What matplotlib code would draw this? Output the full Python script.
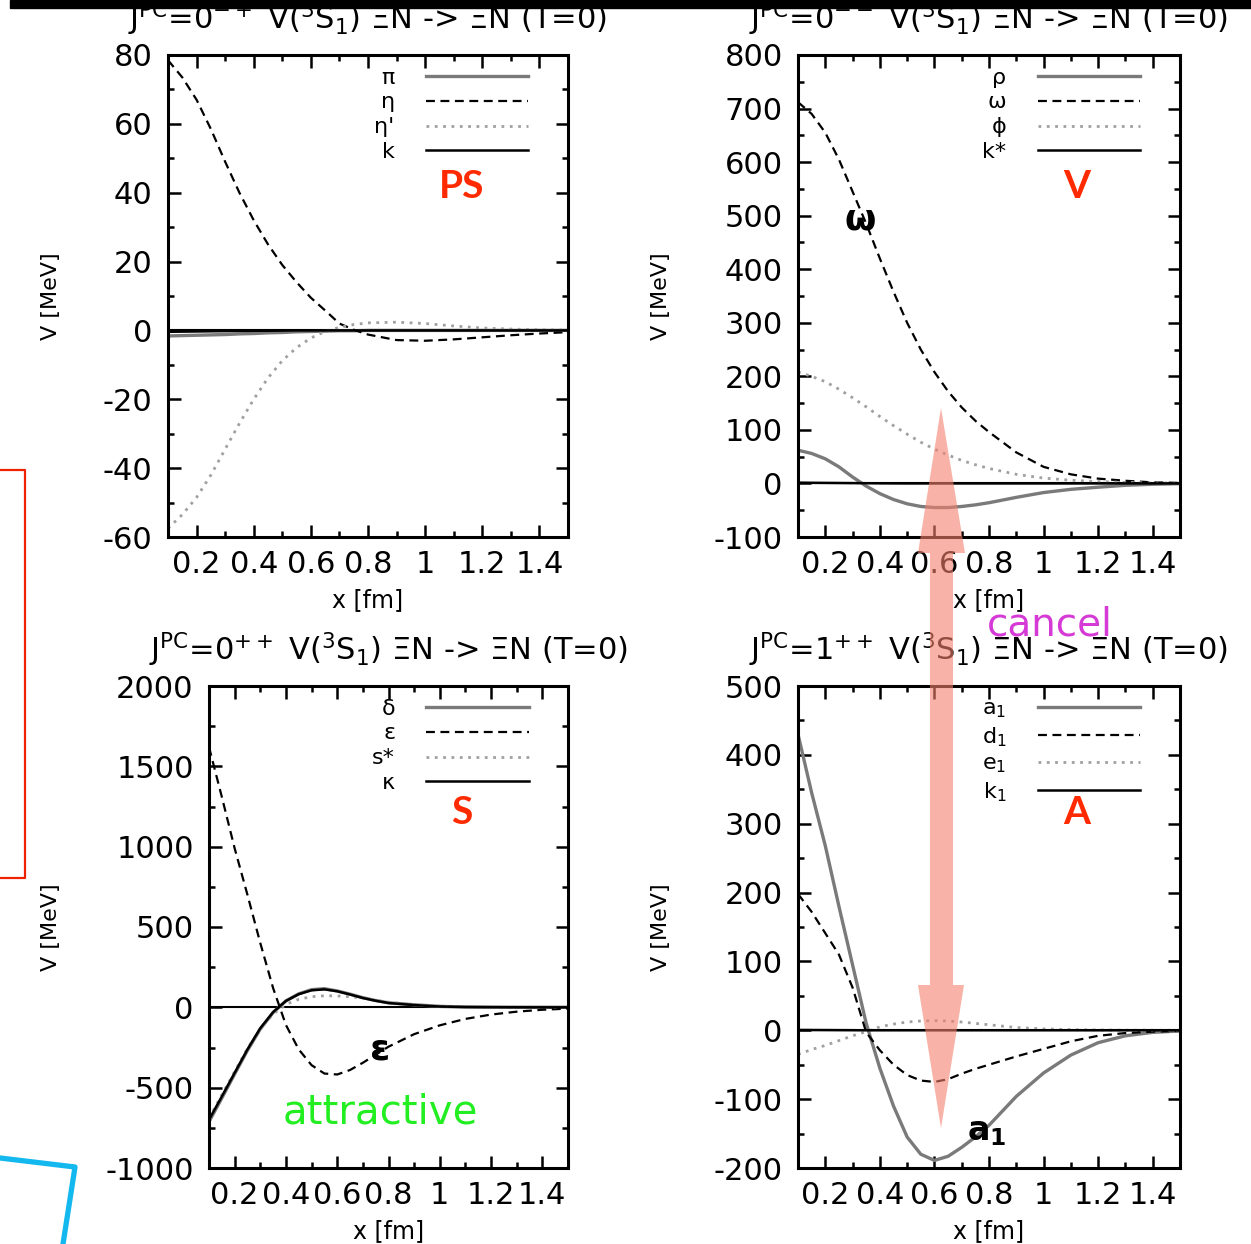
import matplotlib
matplotlib.use('Agg')
import matplotlib.pyplot as plt
from matplotlib.ticker import MultipleLocator, FuncFormatter
from matplotlib.patches import Polygon, Rectangle
from matplotlib.lines import Line2D

W, H = 1251, 1244

# ---------------- data ----------------
x = [0.1, 0.15, 0.2, 0.25, 0.3, 0.35, 0.4, 0.45, 0.5, 0.55, 0.6, 0.65,
     0.7, 0.75, 0.8, 0.9, 1.0, 1.1, 1.2, 1.3, 1.4, 1.5]

# pseudoscalar panel
ps_labels = ['π', 'η', "η'", 'k']
ps_pi = [-1.6, -1.5, -1.4, -1.3, -1.2, -1.0, -0.9, -0.7, -0.6, -0.4, -0.3, -0.2,
         -0.1, -0.1, 0.0, 0.0, 0.0, 0.0, 0.0, 0.0, 0.0, 0.0]
ps_eta = [78.5, 73.5, 67, 58.5, 49, 40, 32, 25, 19, 14, 9.5, 5.8,
          2.0, 0.2, -1.2, -2.8, -3.0, -2.6, -2.0, -1.4, -0.9, -0.5]
ps_etap = [-57.5, -53.5, -48.5, -42, -34.5, -27, -20, -13.8, -8.8, -5, -2.2, -0.3,
           0.9, 1.7, 2.2, 2.4, 2.0, 1.3, 0.7, 0.4, 0.2, 0.1]
ps_k = [-0.4, -0.35, -0.3, -0.25, -0.2, -0.15, -0.1, -0.1, -0.05, 0, 0, 0,
        0, 0, 0, 0, 0, 0, 0, 0, 0, 0]

# vector panel
v_labels = ['ρ', 'ω', 'ϕ', 'k*']
v_rho = [62, 56, 46, 31, 12, -5, -19, -30, -38, -43, -45, -45,
         -43, -40, -36, -26, -17, -11, -7, -3.5, -1.5, -0.5]
v_omega = [712, 690, 655, 605, 545, 485, 420, 358, 300, 250, 208, 172,
           142, 117, 96, 58, 31, 17, 9, 5, 2, 1]
v_phi = [208, 200, 190, 176, 160, 143, 125, 108, 92, 77, 64, 53,
         43, 35, 28, 17, 10, 6, 3.5, 2, 1, 0.5]
v_kstar = [1.5, 1.2, 1.0, 0.8, 0.6, 0.4, 0.2, 0.1, 0, 0, 0, 0,
           0, 0, 0, 0, 0, 0, 0, 0, 0, 0]

# scalar panel
s_labels = ['δ', 'ε', 's*', 'κ']
s_delta = [-712, -565, -415, -268, -135, -32, 40, 84, 110, 116, 102, 82,
           60, 42, 28, 16, 6, 2, 1, 0.5, 0.2, 0]
s_eps = [1620, 1310, 990, 700, 400, 120, -110, -262, -360, -412, -418, -390,
         -345, -295, -245, -167, -112, -72, -45, -27, -15, -8]
s_sstar = [-690, -545, -400, -255, -135, -42, 18, 50, 66, 72, 71, 66,
           58, 44, 32, 16, 7, 3, 1, 0.5, 0.2, 0]
s_kappa = [-700, -555, -408, -262, -130, -30, 40, 82, 106, 112, 100, 80,
           58, 41, 27, 14, 5, 2, 1, 0.4, 0.1, 0]

# axial-vector panel
a_labels = ['a$_1$', 'd$_1$', 'e$_1$', 'k$_1$']
a_a1 = [430, 345, 268, 180, 95, 10, -55, -110, -155, -180, -189, -183,
        -170, -155, -138, -96, -62, -36, -18, -8, -3, -1]
a_d1 = [198, 172, 141, 110, 62, -3, -29, -50, -65, -73, -75, -71,
        -63, -56, -50, -38, -27, -16, -8, -4, -2, -1]
a_e1 = [-35, -28, -22, -15, -8, -2, 5, 9, 12, 13.5, 14, 13.5,
        12, 10, 8, 4, 2, 1, 0.5, 0.2, 0.1, 0]
a_k1 = [0.5, 0.4, 0.3, 0.2, 0.1, 0, 0, 0, 0, 0, 0, 0,
        0, 0, 0, 0, 0, 0, 0, 0, 0, 0]

titles = [r'J$^{\mathrm{PC}}$=0$^{-+}$ V($^{3}$S$_{1}$) ΞN -> ΞN (T=0)',
          r'J$^{\mathrm{PC}}$=0$^{--}$ V($^{3}$S$_{1}$) ΞN -> ΞN (T=0)',
          r'J$^{\mathrm{PC}}$=0$^{++}$ V($^{3}$S$_{1}$) ΞN -> ΞN (T=0)',
          r'J$^{\mathrm{PC}}$=1$^{++}$ V($^{3}$S$_{1}$) ΞN -> ΞN (T=0)']

# ---------------- figure ----------------
plt.rcParams['font.family'] = ['DejaVu Sans']
plt.rcParams['mathtext.default'] = 'regular'
fig = plt.figure(figsize=(W / 100, H / 100), dpi=100)


def add_axes(l, t, r, b):
    return fig.add_axes([l / W, 1 - b / H, (r - l) / W, (b - t) / H])


def fpt(px, py):
    return (px / W, 1 - py / H)


styles = [dict(color='#7a7a7a', lw=2.4, ls='-'),
          dict(color='black', lw=1.6, ls=(0, (4, 2.5))),
          dict(color='#a0a0a0', lw=2.0, ls=(0, (1, 2))),
          dict(color='black', lw=1.8, ls='-')]

fmt = FuncFormatter(lambda v, p: '%g' % round(v, 6))


def setup(ax, series, labels, ylim, ymaj, ymin, title, ylabx, leg_anchor):
    ax.axhline(0, color='black', lw=1.5, zorder=1)
    handles = []
    for s, st in zip(series, styles):
        ax.plot(x, s, color=st['color'], lw=st['lw'], ls=st['ls'], zorder=2)
        handles.append(Line2D([], [], color=st['color'], lw=st['lw'], ls=st['ls']))
    ax.set_xlim(0.1, 1.5)
    ax.set_ylim(*ylim)
    ax.xaxis.set_major_locator(MultipleLocator(0.2))
    ax.xaxis.set_minor_locator(MultipleLocator(0.1))
    ax.yaxis.set_major_locator(MultipleLocator(ymaj))
    ax.yaxis.set_minor_locator(MultipleLocator(ymin))
    ax.xaxis.set_major_formatter(fmt)
    ax.yaxis.set_major_formatter(fmt)
    ax.tick_params(which='both', direction='in', top=True, right=True,
                   labelsize=22, width=1.8)
    ax.tick_params(which='major', length=9)
    ax.tick_params(which='minor', length=4.5)
    ax.tick_params(axis='y', pad=11)
    ax.tick_params(axis='x', pad=9)
    for sp in ax.spines.values():
        sp.set_linewidth(2.2)
    ax.set_xlabel('x [fm]', fontsize=17)
    ax.set_ylabel('V [MeV]', fontsize=16)
    ax.xaxis.set_label_coords(0.5, -0.105)
    ax.yaxis.set_label_coords(ylabx, 0.5)
    ax.text(0.5, 1.075, title, transform=ax.transAxes, ha='center',
            va='center', fontsize=22)
    ax.legend(handles, labels, loc='upper right', bbox_to_anchor=leg_anchor,
              frameon=False, markerfirst=False, fontsize=16,
              handlelength=4.6, handletextpad=1.4, labelspacing=0.22,
              borderpad=0, borderaxespad=0)


ax1 = add_axes(168, 55, 568, 537)
setup(ax1, [ps_pi, ps_eta, ps_etap, ps_k], ps_labels, (-60, 80), 20, 10,
      titles[0], -0.2675, (0.9, 0.974))
ax2 = add_axes(798, 55, 1180, 537)
setup(ax2, [v_rho, v_omega, v_phi, v_kstar], v_labels, (-100, 800), 100, 50,
      titles[1], -0.332, (0.895, 0.974))
ax3 = add_axes(209, 686, 568, 1168)
setup(ax3, [s_delta, s_eps, s_sstar, s_kappa], s_labels, (-1000, 2000), 500, 250,
      titles[2], -0.412, (0.89, 0.974))
ax4 = add_axes(798, 686, 1180, 1168)
setup(ax4, [a_a1, a_d1, a_e1, a_k1], a_labels, (-200, 500), 100, 50,
      titles[3], -0.332, (0.895, 0.974))

# ---------------- annotations ----------------
red = '#ff2a00'
for txt, (px, py) in [('PS', (462, 187)), ('V', (1077, 187)),
                      ('S', (462, 813)), ('A', (1077, 813))]:
    fig.text(*fpt(px, py), txt, color=red, fontsize=28, fontweight='bold',
             family=['Lato', 'DejaVu Sans'], ha='center', va='center')

fig.text(*fpt(860, 220), 'ω', fontsize=26, fontweight='bold', ha='center',
         va='center', color='black')
fig.text(*fpt(380, 1050), 'ε', fontsize=26, fontweight='bold', ha='center',
         va='center', color='black')
fig.text(*fpt(987, 1132), 'a$_1$', fontsize=24, fontweight='bold', ha='center',
         va='center', color='black')
fig.text(*fpt(380, 1112), 'attractive', fontsize=29, color='#22ee22',
         ha='center', va='center')
fig.text(*fpt(1050, 625), 'cancel', fontsize=28, color='#d63ad6',
         ha='center', va='center', zorder=20)

# double arrow
arrow_px = [(941, 408), (965, 553), (953, 553), (953, 985), (964, 985),
            (941, 1128), (918, 985), (930, 985), (930, 553), (918, 553)]
fig.add_artist(Polygon([fpt(*p) for p in arrow_px], closed=True,
                       transform=fig.transFigure, facecolor='#f4806c',
                       edgecolor='none', alpha=0.6, zorder=15))

# red frame on left
fig.add_artist(Line2D([fpt(0, 470)[0], fpt(25, 470)[0], fpt(25, 878)[0], fpt(0, 878)[0]],
                      [fpt(0, 470)[1], fpt(25, 470)[1], fpt(25, 878)[1], fpt(0, 878)[1]],
                      transform=fig.transFigure, color='#ee2200', lw=1.6))
# cyan shape bottom-left
fig.add_artist(Line2D([fpt(0, 1158)[0], fpt(75, 1167)[0], fpt(63, 1244)[0]],
                      [fpt(0, 1158)[1], fpt(75, 1167)[1], fpt(63, 1244)[1]],
                      transform=fig.transFigure, color='#12b8ee', lw=3.8))
# black bar on top
fig.add_artist(Rectangle(fpt(10, 8), (W - 10) / W, 8 / H,
                         transform=fig.transFigure, color='black', zorder=30))

fig.savefig('out.png', dpi=100)
